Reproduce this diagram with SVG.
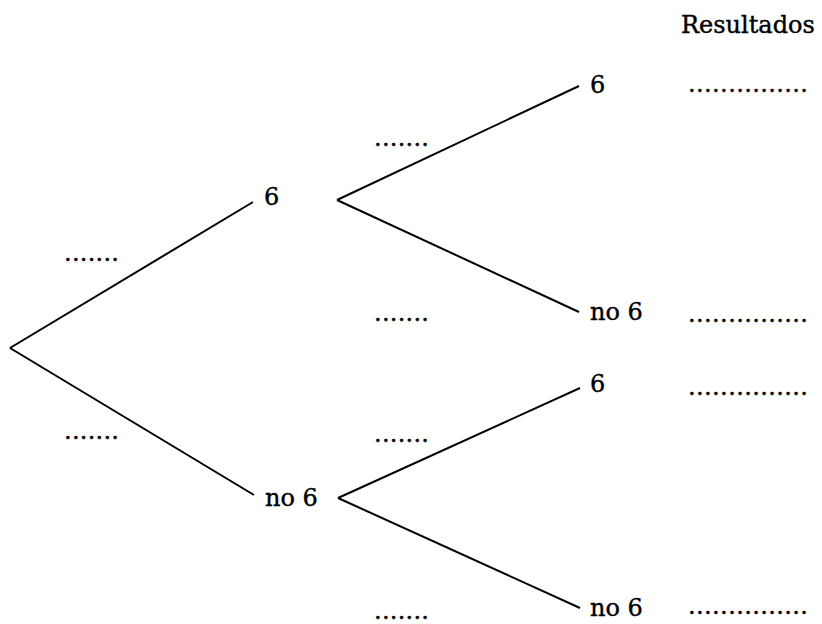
<svg xmlns="http://www.w3.org/2000/svg" width="822" height="624" viewBox="0 0 822 624">
<style>
.t{font-family:"DejaVu Serif","Liberation Serif",serif;font-size:24px;fill:#000;stroke:#000;stroke-width:0.4}
.e{stroke:#000;stroke-width:2;fill:none}
</style>
<rect width="822" height="624" fill="#fff"/>
<g id="connectors">
<line class="e" x1="10" y1="348" x2="253" y2="202"/>
<line class="e" x1="10" y1="348" x2="254" y2="495"/>
<line class="e" x1="337" y1="200" x2="579" y2="86"/>
<line class="e" x1="337" y1="200" x2="579" y2="312"/>
<line class="e" x1="338" y1="498" x2="580" y2="388"/>
<line class="e" x1="338" y1="498" x2="580" y2="608"/>
</g>
<g id="header"><text class="t" x="681" y="33">Resultados</text></g>
<g id="n1"><text class="t" x="264" y="205">6</text></g>
<g id="n2"><text class="t" x="265" y="506">no 6</text></g>
<g id="n3"><text class="t" x="590" y="93">6</text></g>
<g id="n4"><text class="t" x="590" y="320">no 6</text></g>
<g id="n5"><text class="t" x="590" y="392">6</text></g>
<g id="n6"><text class="t" x="590" y="616">no 6</text></g>
<g id="probs">
<text class="t" x="64" y="261" textLength="55" lengthAdjust="spacing">.......</text>
<text class="t" x="64" y="439" textLength="55" lengthAdjust="spacing">.......</text>
<text class="t" x="374" y="146" textLength="55" lengthAdjust="spacing">.......</text>
<text class="t" x="374" y="321" textLength="55" lengthAdjust="spacing">.......</text>
<text class="t" x="374" y="442" textLength="55" lengthAdjust="spacing">.......</text>
<text class="t" x="374" y="619" textLength="55" lengthAdjust="spacing">.......</text>
</g>
<g id="results">
<text class="t" x="688" y="92" textLength="120" lengthAdjust="spacing">...............</text>
<text class="t" x="688" y="322" textLength="120" lengthAdjust="spacing">...............</text>
<text class="t" x="688" y="395" textLength="120" lengthAdjust="spacing">...............</text>
<text class="t" x="688" y="614" textLength="120" lengthAdjust="spacing">...............</text>
</g>
</svg>
